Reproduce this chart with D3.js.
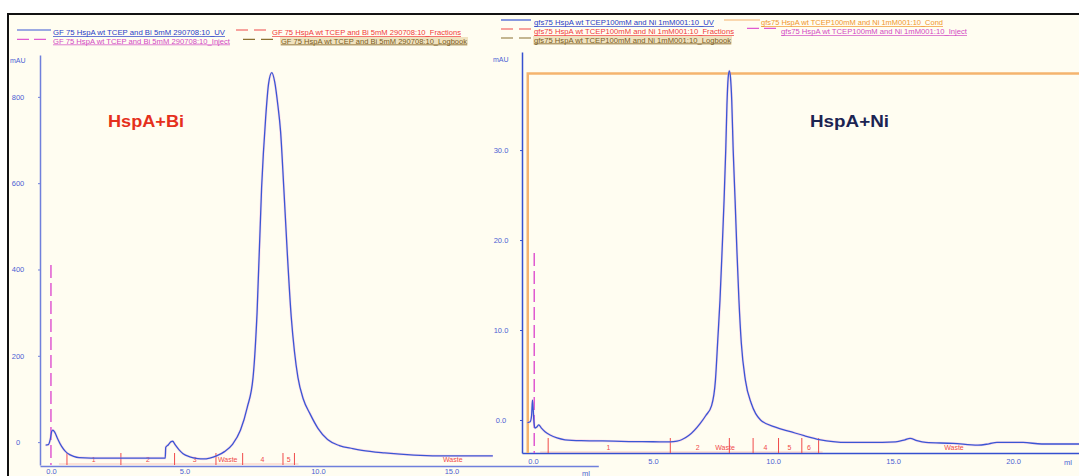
<!DOCTYPE html>
<html><head><meta charset="utf-8">
<script src="https://cdn.jsdelivr.net/npm/d3@7/dist/d3.min.js"></script>
<style>
html,body{margin:0;padding:0;background:#fff;overflow:hidden}
svg{display:block;font-family:"Liberation Sans",Arial,sans-serif}
</style></head><body>
<svg id="c" width="1079" height="476"></svg>
<script>
// ---------- DATA ----------
// Left panel: HspA + Bi (UV, mAU vs ml)
const biMl  = [-0.2,-0.1,-0.03,0.03,0.07,0.15,0.25,0.4,0.55,0.7,0.85,1.05,1.5,2.5,3.5,4.28,4.3,4.4,4.5,4.56,4.65,4.8,4.95,5.2,5.5,5.7,5.95,6.2,6.5,6.8,7.1,7.35,7.57,7.72,7.89,8.04,8.15,8.27,8.38,8.5,8.6,8.72,8.85,9.0,9.12,9.25,9.45,9.7,10.0,10.36,10.8,11.3,11.65,12.5,13.6,15.0,16.55];
const biMAU = [-7,-6,5,25,28,22,8,-10,-22,-29,-33,-36,-37,-37,-37,-37,-12,-6,1,2,-6,-18,-27,-34,-38,-39,-37,-32,-22,-5,28,80,150,300,590,750,830,856,835,780,720,590,440,290,210,150,100,66,32,6,-8,-15,-19,-25,-30,-32,-32];
// Right panel: HspA + Ni
const niMl  = [-0.23,-0.12,-0.06,-0.025,0.0,0.04,0.08,0.15,0.24,0.35,0.5,0.71,1.0,1.33,2.0,2.9,4.0,5.0,5.71,6.0,6.19,6.5,6.96,7.2,7.44,7.6,7.7,7.79,7.88,7.96,8.03,8.08,8.13,8.18,8.23,8.28,8.34,8.42,8.5,8.58,8.68,8.85,9.1,9.48,10.1,10.73,11.3,11.98,12.5,13.08,14.0,15.11,15.5,15.71,16.0,16.37,17.5,18.54,19.0,19.33,20.42,21.2,22.75];
const niMAU = [-0.3,-0.2,0.5,2.2,1.5,-0.3,-0.9,-0.8,-0.55,-0.9,-1.3,-1.67,-2.0,-2.2,-2.3,-2.33,-2.4,-2.42,-2.44,-2.35,-2.2,-1.7,-0.4,0.5,1.6,4.4,9,13.3,19,24.4,30,35,38,38.8,38,35.5,30,24.4,18.5,13.3,8.5,4.4,1.8,0,-0.8,-1.3,-1.75,-2.2,-2.4,-2.5,-2.5,-2.44,-2.2,-2.04,-2.3,-2.5,-2.6,-2.8,-2.65,-2.5,-2.5,-2.67,-2.67];
// conductivity trace (right panel, drawn on mAU scale)
const condMl  = [-0.22,-0.22,22.75];
const condVal = [-3.67,38.5,38.5];
// ticks
const leftYTicks  = [0,200,400,600,800];
const leftXTicks  = [0,5,10,15];
const rightYTicks = [0,10,20,30];
const rightXTicks = [0,5,10,15,20];
// fractions
const biFracTicks = [0.6,2.62,4.63,6.18,7.18,8.69,9.12];
const biFracLabelPos = [1.6,3.63,5.38,6.62,7.92,8.9,15.05];
const biFracLabels = ["1","2","3","Waste","4","5","Waste"];
const niFracTicks = [0.63,5.72,8.18,9.17,10.23,11.2,11.9];
const niFracLabelPos = [3.14,6.86,8.0,9.68,10.68,11.5,17.54];
const niFracLabels = ["1","2","Waste","4","5","6","Waste"];
// legends
const leftLegend = [
  "GF 75 HspA wt TCEP and Bi 5mM 290708:10_UV",
  "GF 75 HspA wt TCEP and Bi 5mM 290708:10_Inject",
  "GF 75 HspA wt TCEP and Bi 5mM 290708:10_Fractions",
  "GF 75 HspA wt TCEP and Bi 5mM 290708:10_Logbook"];
const rightLegend = [
  "gfs75 HspA wt TCEP100mM and Ni 1mM001:10_UV",
  "gfs75 HspA wt TCEP100mM and Ni 1mM001:10_Fractions",
  "gfs75 HspA wt TCEP100mM and Ni 1mM001:10_Logbook",
  "gfs75 HspA wt TCEP100mM and Ni 1mM001:10_Cond",
  "gfs75 HspA wt TCEP100mM and Ni 1mM001:10_Inject"];
const titles = ["HspA+Bi","HspA+Ni"];

// ---------- DRAW ----------
const svg = d3.select("#c");
const C = {uv:"#3a56d4", axis:"#6f80dc", lab:"#4c5fd4", frac:"#f04a4a", inj:"#e05ad0", log:"#7a5c22", cond:"#f5b46e"};

svg.append("rect").attr("x",8).attr("y",14).attr("width",1071).attr("height",462).attr("fill","#fffdf1");
svg.append("line").attr("x1",8).attr("x2",1079).attr("y1",14).attr("y2",14).attr("stroke","#111").attr("stroke-width",2);
svg.append("line").attr("x1",8).attr("x2",8).attr("y1",13).attr("y2",476).attr("stroke","#111").attr("stroke-width",2);

// scales
const xL = d3.scaleLinear().domain([-0.41,20.5]).range([40,598.3]);
const yL = d3.scaleLinear().domain([-53,897]).range([465,55]);
const xR = d3.scaleLinear().domain([-0.46,22.75]).range([522,1079]);
const yR = d3.scaleLinear().domain([-3.67,40.9]).range([453,52]);

function styleAxis(g, col){
  g.select(".domain").attr("stroke",col).attr("stroke-width",1.5);
  g.selectAll(".tick line").attr("stroke",col);
  g.selectAll("text").attr("fill",C.lab).attr("font-size","7.5px");
}
// left axes
const gyL = svg.append("g").attr("transform","translate(40,0)")
  .call(d3.axisLeft(yL).tickValues(leftYTicks).tickSize(2).tickSizeOuter(0).tickFormat(d3.format("d")));
styleAxis(gyL, C.axis);
gyL.selectAll("text").attr("text-anchor","middle").attr("x",-22);
const gxL = svg.append("g").attr("transform","translate(0,466)")
  .call(d3.axisBottom(xL).tickValues(leftXTicks).tickSize(0).tickSizeOuter(0).tickFormat(d3.format(".1f")));
styleAxis(gxL, C.axis);
gxL.selectAll("text").attr("y",2.5);
svg.append("text").attr("x",582).attr("y",475.5).attr("fill",C.lab).attr("font-size","7.5px").text("ml");
svg.append("text").attr("x",10).attr("y",63).attr("fill",C.lab).attr("font-size","7px").text("mAU");

// right axes
const gyR = svg.append("g").attr("transform","translate(522,0)")
  .call(d3.axisLeft(yR).tickValues(rightYTicks).tickSize(2).tickSizeOuter(0).tickFormat(d3.format(".1f")));
styleAxis(gyR, "#3550d0");
gyR.selectAll("text").attr("text-anchor","middle").attr("x",-21);
const gxR = svg.append("g").attr("transform","translate(0,453)")
  .call(d3.axisBottom(xR).tickValues(rightXTicks).tickSize(0).tickSizeOuter(0).tickFormat(d3.format(".1f")));
styleAxis(gxR, "#3550d0");
gxR.selectAll("text").attr("y",6);
svg.append("text").attr("x",1068).attr("y",465).attr("text-anchor","middle").attr("fill",C.lab).attr("font-size","7.5px").text("ml");
svg.append("text").attr("x",493).attr("y",62).attr("fill",C.lab).attr("font-size","7px").text("mAU");

// fractions
function fractions(xs, y0, ticks, pos, labs, h){
  svg.append("line").attr("x1",xs(ticks[0])-8).attr("x2",xs(ticks[ticks.length-1])+4)
     .attr("y1",y0-1).attr("y2",y0-1).attr("stroke",C.frac).attr("stroke-width",0.6).attr("opacity",0.5);
  svg.selectAll(null).data(ticks).enter().append("line")
    .attr("x1",d=>xs(d)).attr("x2",d=>xs(d)).attr("y1",y0).attr("y2",y0-h)
    .attr("stroke",C.frac).attr("stroke-width",1);
  svg.selectAll(null).data(pos).enter().append("text")
    .attr("x",d=>xs(d)).attr("y",y0-3).attr("text-anchor","middle")
    .attr("fill",C.frac).attr("font-size","7px").text((d,i)=>labs[i]);
}
fractions(xL, 465, biFracTicks, biFracLabelPos, biFracLabels, 12);
fractions(xR, 453, niFracTicks, niFracLabelPos, niFracLabels, 15);

// injection marks
svg.append("line").attr("x1",xL(0)).attr("x2",xL(0)).attr("y1",265).attr("y2",465)
  .attr("stroke",C.inj).attr("stroke-width",1.5).attr("stroke-dasharray","13,5");
svg.append("line").attr("x1",xR(0.05)).attr("x2",xR(0.05)).attr("y1",253).attr("y2",453)
  .attr("stroke",C.inj).attr("stroke-width",1.5).attr("stroke-dasharray","13,5");

// conductivity
const condLine = d3.line().x((d,i)=>xR(condMl[i])).y((d,i)=>yR(condVal[i]));
svg.append("path").attr("d",condLine(condMl)).attr("fill","none").attr("stroke",C.cond).attr("stroke-width",2.5);

// UV traces
function trace(xs, ys, mls, vals){
  const ln = d3.line().x((d,i)=>xs(mls[i])).y((d,i)=>ys(vals[i])).curve(d3.curveMonotoneX);
  svg.append("path").attr("d",ln(mls)).attr("fill","none").attr("stroke","#f2a0d8").attr("stroke-width",2.6).attr("opacity",0.35);
  svg.append("path").attr("d",ln(mls)).attr("fill","none").attr("stroke",C.uv).attr("stroke-width",1.3);
}
trace(xL, yL, biMl, biMAU);
trace(xR, yR, niMl, niMAU);

// titles
svg.append("text").attr("x",108).attr("y",127).attr("fill","#e5301c").attr("font-weight","bold")
  .attr("font-size","17px").attr("textLength",76).attr("lengthAdjust","spacingAndGlyphs").text(titles[0]);
svg.append("text").attr("x",810).attr("y",127).attr("fill","#1c2452").attr("font-weight","bold")
  .attr("font-size","17px").attr("textLength",79).attr("lengthAdjust","spacingAndGlyphs").text(titles[1]);

// legends
function legItem(lx1,lx2,ly,col,dash,tx,tw,ty,tcol,txt,bg){
  svg.append("line").attr("x1",lx1).attr("x2",lx2).attr("y1",ly).attr("y2",ly)
    .attr("stroke",col).attr("stroke-width",1.2).attr("stroke-dasharray",dash||null);
  if(bg) svg.append("rect").attr("x",tx-1).attr("y",ty-6.5).attr("width",tw+2).attr("height",8.5).attr("fill",bg);
  svg.append("text").attr("x",tx).attr("y",ty).attr("fill",tcol).attr("font-size","7px")
    .attr("textLength",tw).attr("lengthAdjust","spacingAndGlyphs")
    .style("text-decoration","underline").text(txt);
}
legItem(17,51,30,C.uv,null,53,172,35,"#2a40c8",leftLegend[0]);
legItem(17,51,39.3,C.inj,"12,5",53,177,43.5,"#d24ac4",leftLegend[1]);
legItem(236,267,30,C.frac,"12,6",272,189,35,"#f03a3a",leftLegend[2]);
legItem(243,276,39.3,"#8a7030","12,6",281,186,43.5,C.log,leftLegend[3],"#f0e2bf");

legItem(501,531,20,C.uv,null,534,180,25,"#2a40c8",rightLegend[0]);
legItem(501,531,29,C.frac,"12,6",534,200,34,"#f03a3a",rightLegend[1]);
legItem(501,531,38,"#8a7030","12,6",534,197,42.5,C.log,rightLegend[2],"#f0e2bf");
legItem(724,760,20,C.cond,null,761,182,25,"#f0962c",rightLegend[3]);
legItem(747,778,28.3,C.inj,"12,5",781,186,34,"#d24ac4",rightLegend[4]);
</script>
</body></html>
